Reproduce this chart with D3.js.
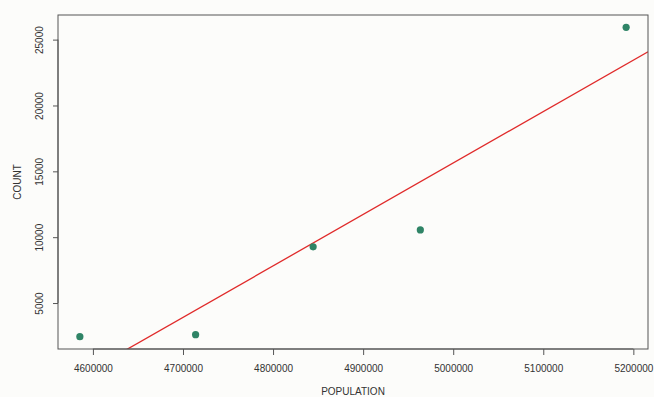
<!DOCTYPE html>
<html>
<head>
<meta charset="utf-8">
<script src="https://cdn.jsdelivr.net/npm/d3@7"></script>
<style>
  body { margin: 0; background: #fcfcfa; }
  text { font-family: "Liberation Sans", Arial, sans-serif; fill: #333; }
</style>
</head>
<body>
<svg id="chart" width="654" height="397"></svg>
<script>
// values
const population = [4585500, 4714000, 4844500, 4963500, 5192000];
const count = [2450, 2600, 9270, 10550, 25930];
const xTicks = [4600000, 4700000, 4800000, 4900000, 5000000, 5100000, 5200000];
const yTicks = [5000, 10000, 15000, 20000, 25000];

const svg = d3.select("#chart");
const plotL = 58, plotR = 648, plotT = 15, plotB = 349;

// R style: pad the data range by 4% on each side
const pad = (ext) => { const r = ext[1] - ext[0]; return [ext[0] - 0.04 * r, ext[1] + 0.04 * r]; };

const x = d3.scaleLinear().domain(pad(d3.extent(population))).range([plotL, plotR]);
const y = d3.scaleLinear().domain(pad(d3.extent(count))).range([plotB, plotT]);

// least squares fit, like abline(lm(COUNT ~ POPULATION))
const mx = d3.mean(population), my = d3.mean(count);
const sxy = d3.sum(population, (p, i) => (p - mx) * (count[i] - my));
const sxx = d3.sum(population, p => (p - mx) * (p - mx));
const slope = sxy / sxx;
const intercept = my - slope * mx;

svg.append("clipPath").attr("id", "clip")
  .append("rect").attr("x", plotL).attr("y", plotT).attr("width", plotR - plotL).attr("height", plotB - plotT);

const xd = x.domain();
svg.append("line")
  .attr("clip-path", "url(#clip)")
  .attr("x1", x(xd[0])).attr("y1", y(intercept + slope * xd[0]))
  .attr("x2", x(xd[1])).attr("y2", y(intercept + slope * xd[1]))
  .attr("stroke", "#e02a2a").attr("stroke-width", 1.3);

svg.append("g").selectAll("circle")
  .data(population)
  .enter().append("circle")
    .attr("cx", d => x(d))
    .attr("cy", (d, i) => y(count[i]))
    .attr("r", 3.6)
    .attr("fill", "#2f8466");

// box
svg.append("rect")
  .attr("x", plotL).attr("y", plotT).attr("width", plotR - plotL).attr("height", plotB - plotT)
  .attr("fill", "none").attr("stroke", "#555").attr("stroke-width", 1);

// axes
const xAxis = svg.append("g")
  .attr("transform", `translate(0,${plotB})`)
  .call(d3.axisBottom(x).tickValues(xTicks).tickFormat(d3.format("d")).tickSize(6).tickPadding(10));
xAxis.select(".domain").attr("d", `M${x(xTicks[0])},0H${x(xTicks[xTicks.length - 1])}`).attr("stroke", "#555");
xAxis.selectAll(".tick line").attr("stroke", "#555");
xAxis.selectAll("text").attr("font-size", 10).attr("fill", "#333");

const yAxis = svg.append("g")
  .attr("transform", `translate(${plotL},0)`)
  .call(d3.axisLeft(y).tickValues(yTicks).tickFormat(d3.format("d")).tickSize(5));
yAxis.select(".domain").attr("d", `M0,${y(yTicks[0])}V${y(yTicks[yTicks.length - 1])}`).attr("stroke", "#555");
yAxis.selectAll(".tick line").attr("stroke", "#555");
yAxis.selectAll("text")
  .attr("font-size", 10).attr("fill", "#333")
  .attr("x", null).attr("dy", null)
  .attr("text-anchor", "middle")
  .attr("transform", "translate(-15,0) rotate(-90)");

svg.append("text")
  .attr("x", (plotL + plotR) / 2).attr("y", 395)
  .attr("text-anchor", "middle").attr("font-size", 10)
  .text("POPULATION");

svg.append("text")
  .attr("transform", `translate(21,${(plotT + plotB) / 2}) rotate(-90)`)
  .attr("text-anchor", "middle").attr("font-size", 10)
  .text("COUNT");
</script>
</body>
</html>
